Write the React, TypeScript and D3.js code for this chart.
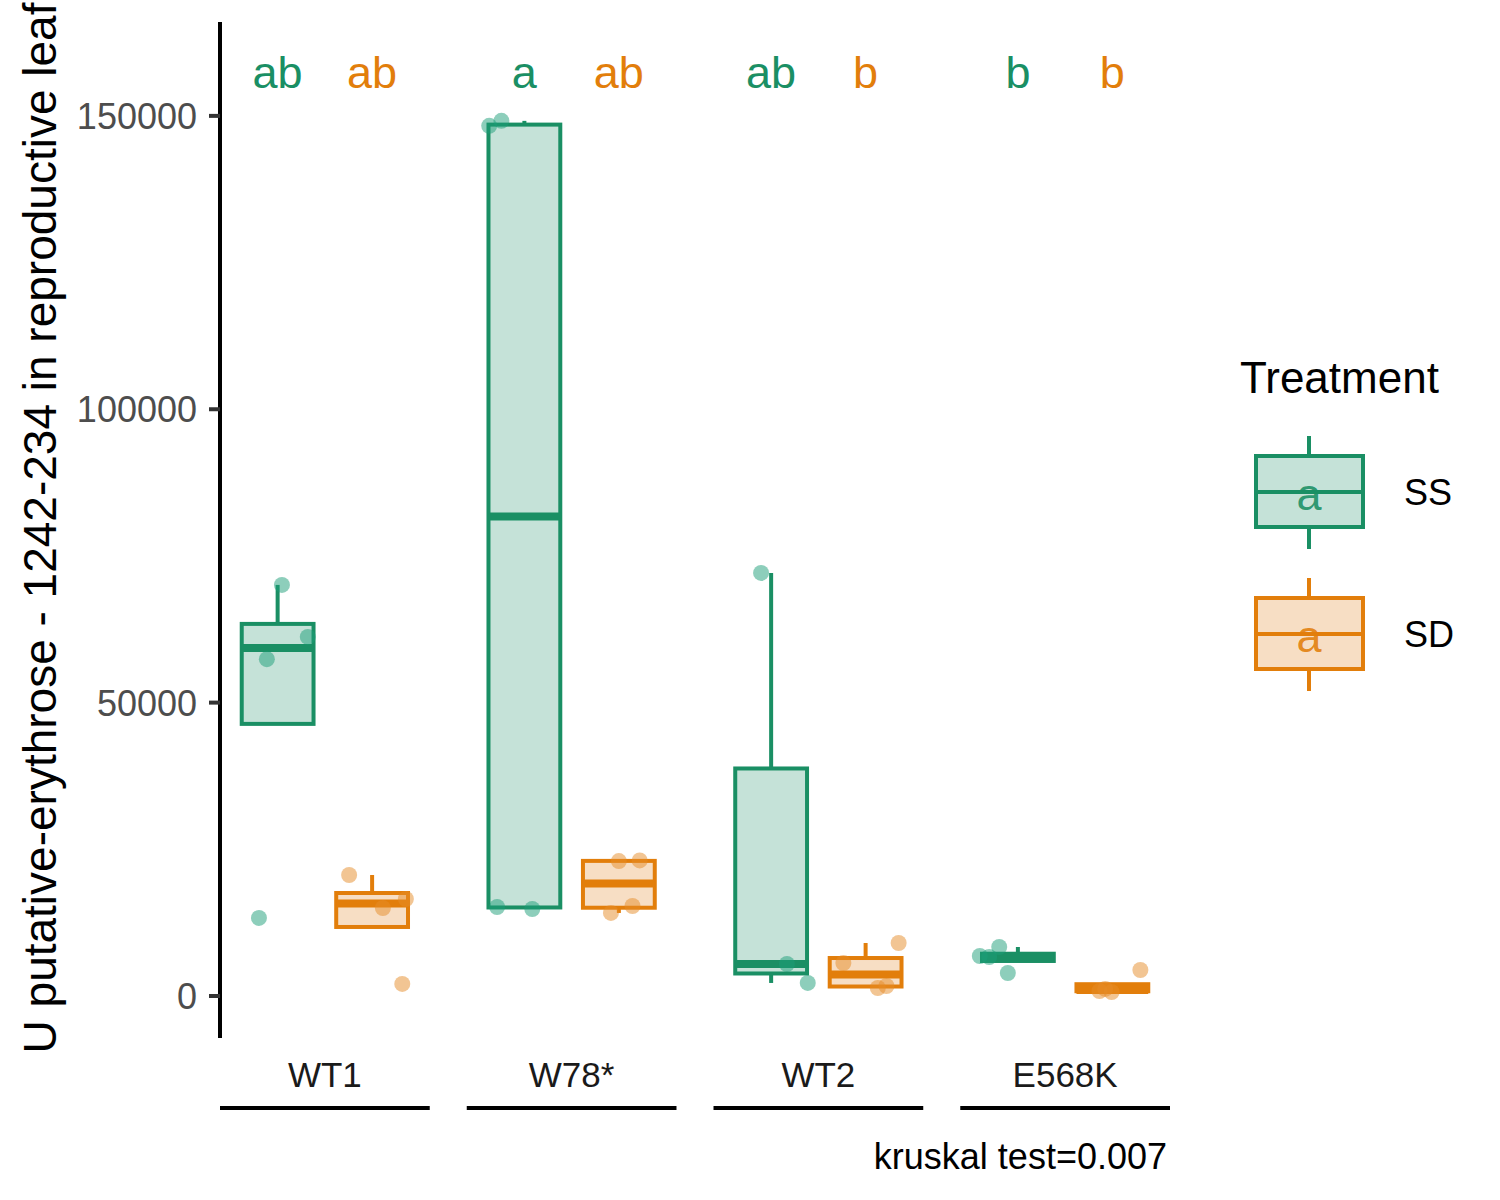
import * as d3 from 'd3';

// Boxplot of U putative-erythrose per genotype, split by treatment (SS / SD)

const GROUPS = ['WT1', 'W78*', 'WT2', 'E568K'];
const TREATMENTS = ['SS', 'SD'];

const SS_VALUES = [
  [70060, 61200, 57400, 13300],
  [148300, 149150, 15170, 14830],
  [72100, 5450, 2220],
  [6820, 6650, 8350, 3920],
];
const SD_VALUES = [
  [20620, 16530, 15000, 2050],
  [23000, 23100, 14150, 15340],
  [9030, 5620, 1360, 1700],
  [4430, 850, 680, 1200],
];

// horizontal jitter as a fraction of the box width
const SS_JITTER = [
  [0.06, 0.42, -0.15, -0.26],
  [-0.49, -0.32, -0.38, 0.11],
  [-0.14, 0.22, 0.51],
  [-0.53, -0.4, -0.26, -0.14],
];
const SD_JITTER = [
  [-0.32, 0.47, 0.15, 0.42],
  [0, 0.29, -0.11, 0.19],
  [0.46, -0.31, 0.17, 0.29],
  [0.39, -0.18, -0.01, -0.1],
];

const SS_LETTERS = ['ab', 'a', 'ab', 'b'];
const SD_LETTERS = ['ab', 'ab', 'b', 'b'];
const LETTER_Y = 157500;

const Y_TICKS = [0, 50000, 100000, 150000];
const Y_DOMAIN = [-7160, 166000];
const KRUSKAL_P = 0.007;
const Y_LABEL = 'U putative-erythrose - 1242-234 in reproductive leaf';

const COLORS: Record<string, { stroke: string; fill: string; point: string }> = {
  SS: { stroke: '#1A8F64', fill: '#C5E2D8', point: 'rgba(27,158,119,0.5)' },
  SD: { stroke: '#E27E0B', fill: '#F7DEC4', point: 'rgba(230,140,40,0.5)' },
};

const FONT = '"Liberation Sans", Arial, Helvetica, sans-serif';

function boxStats(values: number[]) {
  const s = [...values].sort(d3.ascending);
  const q1 = d3.quantile(s, 0.25)!;
  const med = d3.quantile(s, 0.5)!;
  const q3 = d3.quantile(s, 0.75)!;
  const iqr = q3 - q1;
  const lo = d3.min(s.filter(v => v >= q1 - 1.5 * iqr))!;
  const hi = d3.max(s.filter(v => v <= q3 + 1.5 * iqr))!;
  return { q1, med, q3, lo, hi };
}

export default function App() {
  const width = 1500;
  const height = 1200;

  const y = d3.scaleLinear().domain(Y_DOMAIN).range([1038, 22]);
  const xGroup = d3.scaleBand().domain(GROUPS).range([220, 1170]).paddingInner(0.15).paddingOuter(0);
  const xTreat = d3.scaleBand().domain(TREATMENTS).range([0, xGroup.bandwidth()])
    .paddingInner(0.24).paddingOuter(0.23);
  const bw = xTreat.bandwidth();

  const cells = GROUPS.flatMap((g, gi) =>
    TREATMENTS.map(t => {
      const values = t === 'SS' ? SS_VALUES[gi] : SD_VALUES[gi];
      const jitter = t === 'SS' ? SS_JITTER[gi] : SD_JITTER[gi];
      const letter = t === 'SS' ? SS_LETTERS[gi] : SD_LETTERS[gi];
      const cx = (xGroup(g) || 0) + (xTreat(t) || 0) + bw / 2;
      return { g, t, values, jitter, letter, cx, stats: boxStats(values) };
    })
  );

  return (
    <svg width={width} height={height} style={{ position: 'absolute', left: 0, top: 0, background: '#fff' }}
      fontFamily={FONT}>
      {/* y axis */}
      <line x1={220} x2={220} y1={y.range()[0]} y2={y.range()[1]} stroke="#000" strokeWidth={4} />
      {Y_TICKS.map(t => (
        <g key={t} transform={`translate(0,${y(t)})`}>
          <line x1={209} x2={220} stroke="#333" strokeWidth={4} />
          <text x={197} dy="0.36em" textAnchor="end" fontSize={36} fill="#4D4D4D">{t}</text>
        </g>
      ))}
      <text transform={`translate(56,528) rotate(-90)`} textAnchor="middle" fontSize={46} fill="#000">
        {Y_LABEL}
      </text>

      {/* boxes */}
      {cells.map(c => {
        const col = COLORS[c.t];
        const s = c.stats;
        return (
          <g key={c.g + c.t}>
            <line x1={c.cx} x2={c.cx} y1={y(s.q3)} y2={y(s.hi)} stroke={col.stroke} strokeWidth={4} />
            <line x1={c.cx} x2={c.cx} y1={y(s.q1)} y2={y(s.lo)} stroke={col.stroke} strokeWidth={4} />
            <rect x={c.cx - bw / 2} width={bw} y={y(s.q3)} height={y(s.q1) - y(s.q3)}
              fill={col.fill} stroke={col.stroke} strokeWidth={4} />
            <line x1={c.cx - bw / 2} x2={c.cx + bw / 2} y1={y(s.med)} y2={y(s.med)}
              stroke={col.stroke} strokeWidth={8} />
          </g>
        );
      })}

      {/* jittered points */}
      {cells.map(c => c.values.map((v, i) => (
        <circle key={c.g + c.t + i} cx={c.cx + c.jitter[i] * bw} cy={y(v)} r={8} fill={COLORS[c.t].point} />
      )))}

      {/* compact letter display */}
      {cells.map(c => (
        <text key={'l' + c.g + c.t} x={c.cx} y={y(LETTER_Y)} dy="0.35em" textAnchor="middle"
          fontSize={45} fill={COLORS[c.t].stroke}>{c.letter}</text>
      ))}

      {/* group labels with underline */}
      {GROUPS.map(g => {
        const x0 = xGroup(g) || 0;
        return (
          <g key={'g' + g}>
            <text x={x0 + xGroup.bandwidth() / 2} y={1087} textAnchor="middle" fontSize={35} fill="#1A1A1A">{g}</text>
            <line x1={x0} x2={x0 + xGroup.bandwidth()} y1={1108} y2={1108} stroke="#000" strokeWidth={4} />
          </g>
        );
      })}

      <text x={1167} y={1169} textAnchor="end" fontSize={36} fill="#000">{`kruskal test=${KRUSKAL_P}`}</text>

      {/* legend */}
      <text x={1240} y={393} fontSize={44} fill="#000">Treatment</text>
      {TREATMENTS.map((t, i) => {
        const col = COLORS[t];
        const top = 436 + i * 142;
        return (
          <g key={'leg' + t} transform={`translate(1256,${top})`}>
            <line x1={53} x2={53} y1={0} y2={113} stroke={col.stroke} strokeWidth={4} />
            <rect x={0} y={20} width={107} height={71} fill={col.fill} stroke={col.stroke} strokeWidth={4} />
            <line x1={0} x2={107} y1={56} y2={56} stroke={col.stroke} strokeWidth={4} />
            <text x={53} y={58} dy="0.35em" textAnchor="middle" fontSize={45} fill={col.stroke} fillOpacity={0.9}>a</text>
            <text x={148} y={56} dy="0.36em" fontSize={36} fill="#000">{t}</text>
          </g>
        );
      })}
    </svg>
  );
}
